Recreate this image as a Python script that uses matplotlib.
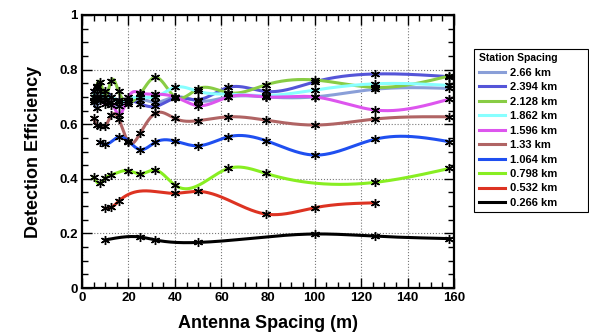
import numpy as np
import matplotlib
matplotlib.use("Agg")
import matplotlib.pyplot as plt
from matplotlib.ticker import MultipleLocator

plt.rcParams['font.family'] = ['Liberation Sans', 'DejaVu Sans']

# antenna spacing (m) and detection efficiency per station spacing
labels = ["2.66 km", "2.394 km", "2.128 km", "1.862 km", "1.596 km",
          "1.33 km", "1.064 km", "0.798 km", "0.532 km", "0.266 km"]
colors = ["#8a9fd8", "#5555d8", "#88cc44", "#88ffff", "#dd55ee",
          "#b06464", "#1f4ff0", "#88ee22", "#dd3322", "#000000"]

x_full = [5, 6.3, 7.9, 10, 12.6, 15.8, 20, 25, 31.6, 40, 50, 63, 79, 100, 126, 158]

eff_266 = [0.68, 0.66, 0.70, 0.69, 0.67, 0.665, 0.675, 0.69, 0.68, 0.70, 0.685, 0.70, 0.70, 0.70, 0.728, 0.731]
eff_2394 = [0.72, 0.70, 0.69, 0.72, 0.70, 0.69, 0.69, 0.675, 0.665, 0.695, 0.69, 0.735, 0.72, 0.755, 0.784, 0.774]
eff_2128 = [0.70, 0.74, 0.755, 0.70, 0.76, 0.72, 0.68, 0.71, 0.772, 0.70, 0.73, 0.715, 0.744, 0.762, 0.735, 0.777]
eff_1862 = [0.70, 0.735, 0.72, 0.69, 0.70, 0.68, 0.69, 0.70, 0.70, 0.735, 0.72, 0.71, 0.705, 0.725, 0.748, 0.742]
eff_1596 = [0.69, 0.70, 0.69, 0.675, 0.68, 0.635, 0.70, 0.715, 0.71, 0.70, 0.668, 0.70, 0.70, 0.70, 0.652, 0.692]
eff_133 = [0.621, 0.597, 0.595, 0.593, 0.632, 0.62, 0.535, 0.566, 0.640, 0.621, 0.613, 0.627, 0.615, 0.597, 0.619, 0.627]

x_1064 = [7.9, 10, 15.8, 20, 25, 31.6, 40, 50, 63, 79, 100, 126, 158]
eff_1064 = [0.534, 0.526, 0.553, 0.538, 0.507, 0.534, 0.538, 0.521, 0.554, 0.540, 0.487, 0.545, 0.536]

x_0798 = [5, 7.9, 10, 12.6, 20, 25, 31.6, 40, 63, 79, 126, 158]
eff_0798 = [0.405, 0.383, 0.402, 0.414, 0.430, 0.418, 0.432, 0.377, 0.438, 0.420, 0.387, 0.438]

x_0532 = [10, 12.6, 15.8, 40, 50, 79, 100, 126]
eff_0532 = [0.292, 0.295, 0.318, 0.347, 0.354, 0.271, 0.294, 0.312]

x_0266 = [10, 25, 31.6, 50, 100, 126, 158]
eff_0266 = [0.176, 0.187, 0.176, 0.167, 0.198, 0.190, 0.181]

series = [(x_full, eff_266), (x_full, eff_2394), (x_full, eff_2128),
          (x_full, eff_1862), (x_full, eff_1596), (x_full, eff_133),
          (x_1064, eff_1064), (x_0798, eff_0798), (x_0532, eff_0532),
          (x_0266, eff_0266)]


def smooth(x, y, n=400):
    # natural cubic spline through the points, only for drawing the curve
    x = np.asarray(x, float)
    y = np.asarray(y, float)
    k = len(x)
    h = np.diff(x)
    A = np.zeros((k, k))
    b = np.zeros(k)
    A[0, 0] = A[-1, -1] = 1
    for i in range(1, k - 1):
        A[i, i - 1] = h[i - 1]
        A[i, i] = 2 * (h[i - 1] + h[i])
        A[i, i + 1] = h[i]
        b[i] = 6 * ((y[i + 1] - y[i]) / h[i] - (y[i] - y[i - 1]) / h[i - 1])
    m = np.linalg.solve(A, b)
    xs = np.linspace(x[0], x[-1], n)
    idx = np.clip(np.searchsorted(x, xs) - 1, 0, k - 2)
    x0, x1 = x[idx], x[idx + 1]
    hh = x1 - x0
    t0 = x1 - xs
    t1 = xs - x0
    ys = (m[idx] * t0 ** 3 + m[idx + 1] * t1 ** 3) / (6 * hh) \
        + (y[idx] / hh - m[idx] * hh / 6) * t0 \
        + (y[idx + 1] / hh - m[idx + 1] * hh / 6) * t1
    return xs, ys


fig = plt.figure(figsize=(5.89, 3.33), dpi=100)
ax = fig.add_axes([0.139, 0.135, 0.632, 0.82])

handles = []
for (xv, yv), c, lab in zip(series, colors, labels):
    xs, ys = smooth(xv, yv)
    h, = ax.plot(xs, ys, color=c, lw=2.2, label=lab, zorder=2)
    handles.append(h)
for (xv, yv) in series:
    ax.plot(xv, yv, ls='none', marker=(6, 2, 0), ms=6.5, mew=1.0,
            color='black', zorder=3)

ax.set_xlim(0, 160)
ax.set_ylim(0, 1)
ax.xaxis.set_minor_locator(MultipleLocator(5))
ax.yaxis.set_minor_locator(MultipleLocator(0.05))
ax.set_xticks(np.arange(0, 161, 20))
ax.set_xticklabels([str(v) for v in range(0, 161, 20)])
ax.set_yticks([0, 0.2, 0.4, 0.6, 0.8, 1.0])
ax.set_yticklabels(["0", "0.2", "0.4", "0.6", "0.8", "1"])
ax.tick_params(which='both', direction='in', top=True, right=True, width=1)
ax.tick_params(which='major', length=7, labelsize=9.5, pad=3)
ax.tick_params(which='minor', length=4)
for t in ax.get_xticklabels() + ax.get_yticklabels():
    t.set_fontweight('bold')
ax.grid(True, which='major', ls=':', color='#777777', lw=0.8)
for s in ax.spines.values():
    s.set_linewidth(1.6)

ax.set_xlabel("Antenna Spacing (m)", fontsize=13, fontweight='bold', labelpad=8)
ax.set_ylabel("Detection Efficiency", fontsize=13, fontweight='bold', labelpad=12)

leg = fig.legend(handles=handles, loc='upper left',
                 bbox_to_anchor=(0.805, 0.372, 0.193, 0.481), mode='expand',
                 title="Station Spacing", fancybox=False, framealpha=1,
                 edgecolor='black', borderpad=0.4, labelspacing=0.4,
                 handlelength=2.4, handletextpad=0.45, borderaxespad=0,
                 prop={'size': 8, 'weight': 'bold'},
                 title_fontproperties={'size': 7.5, 'weight': 'bold'},
                 alignment='left')
leg.get_frame().set_linewidth(0.8)

fig.savefig("out.png", dpi=100)
